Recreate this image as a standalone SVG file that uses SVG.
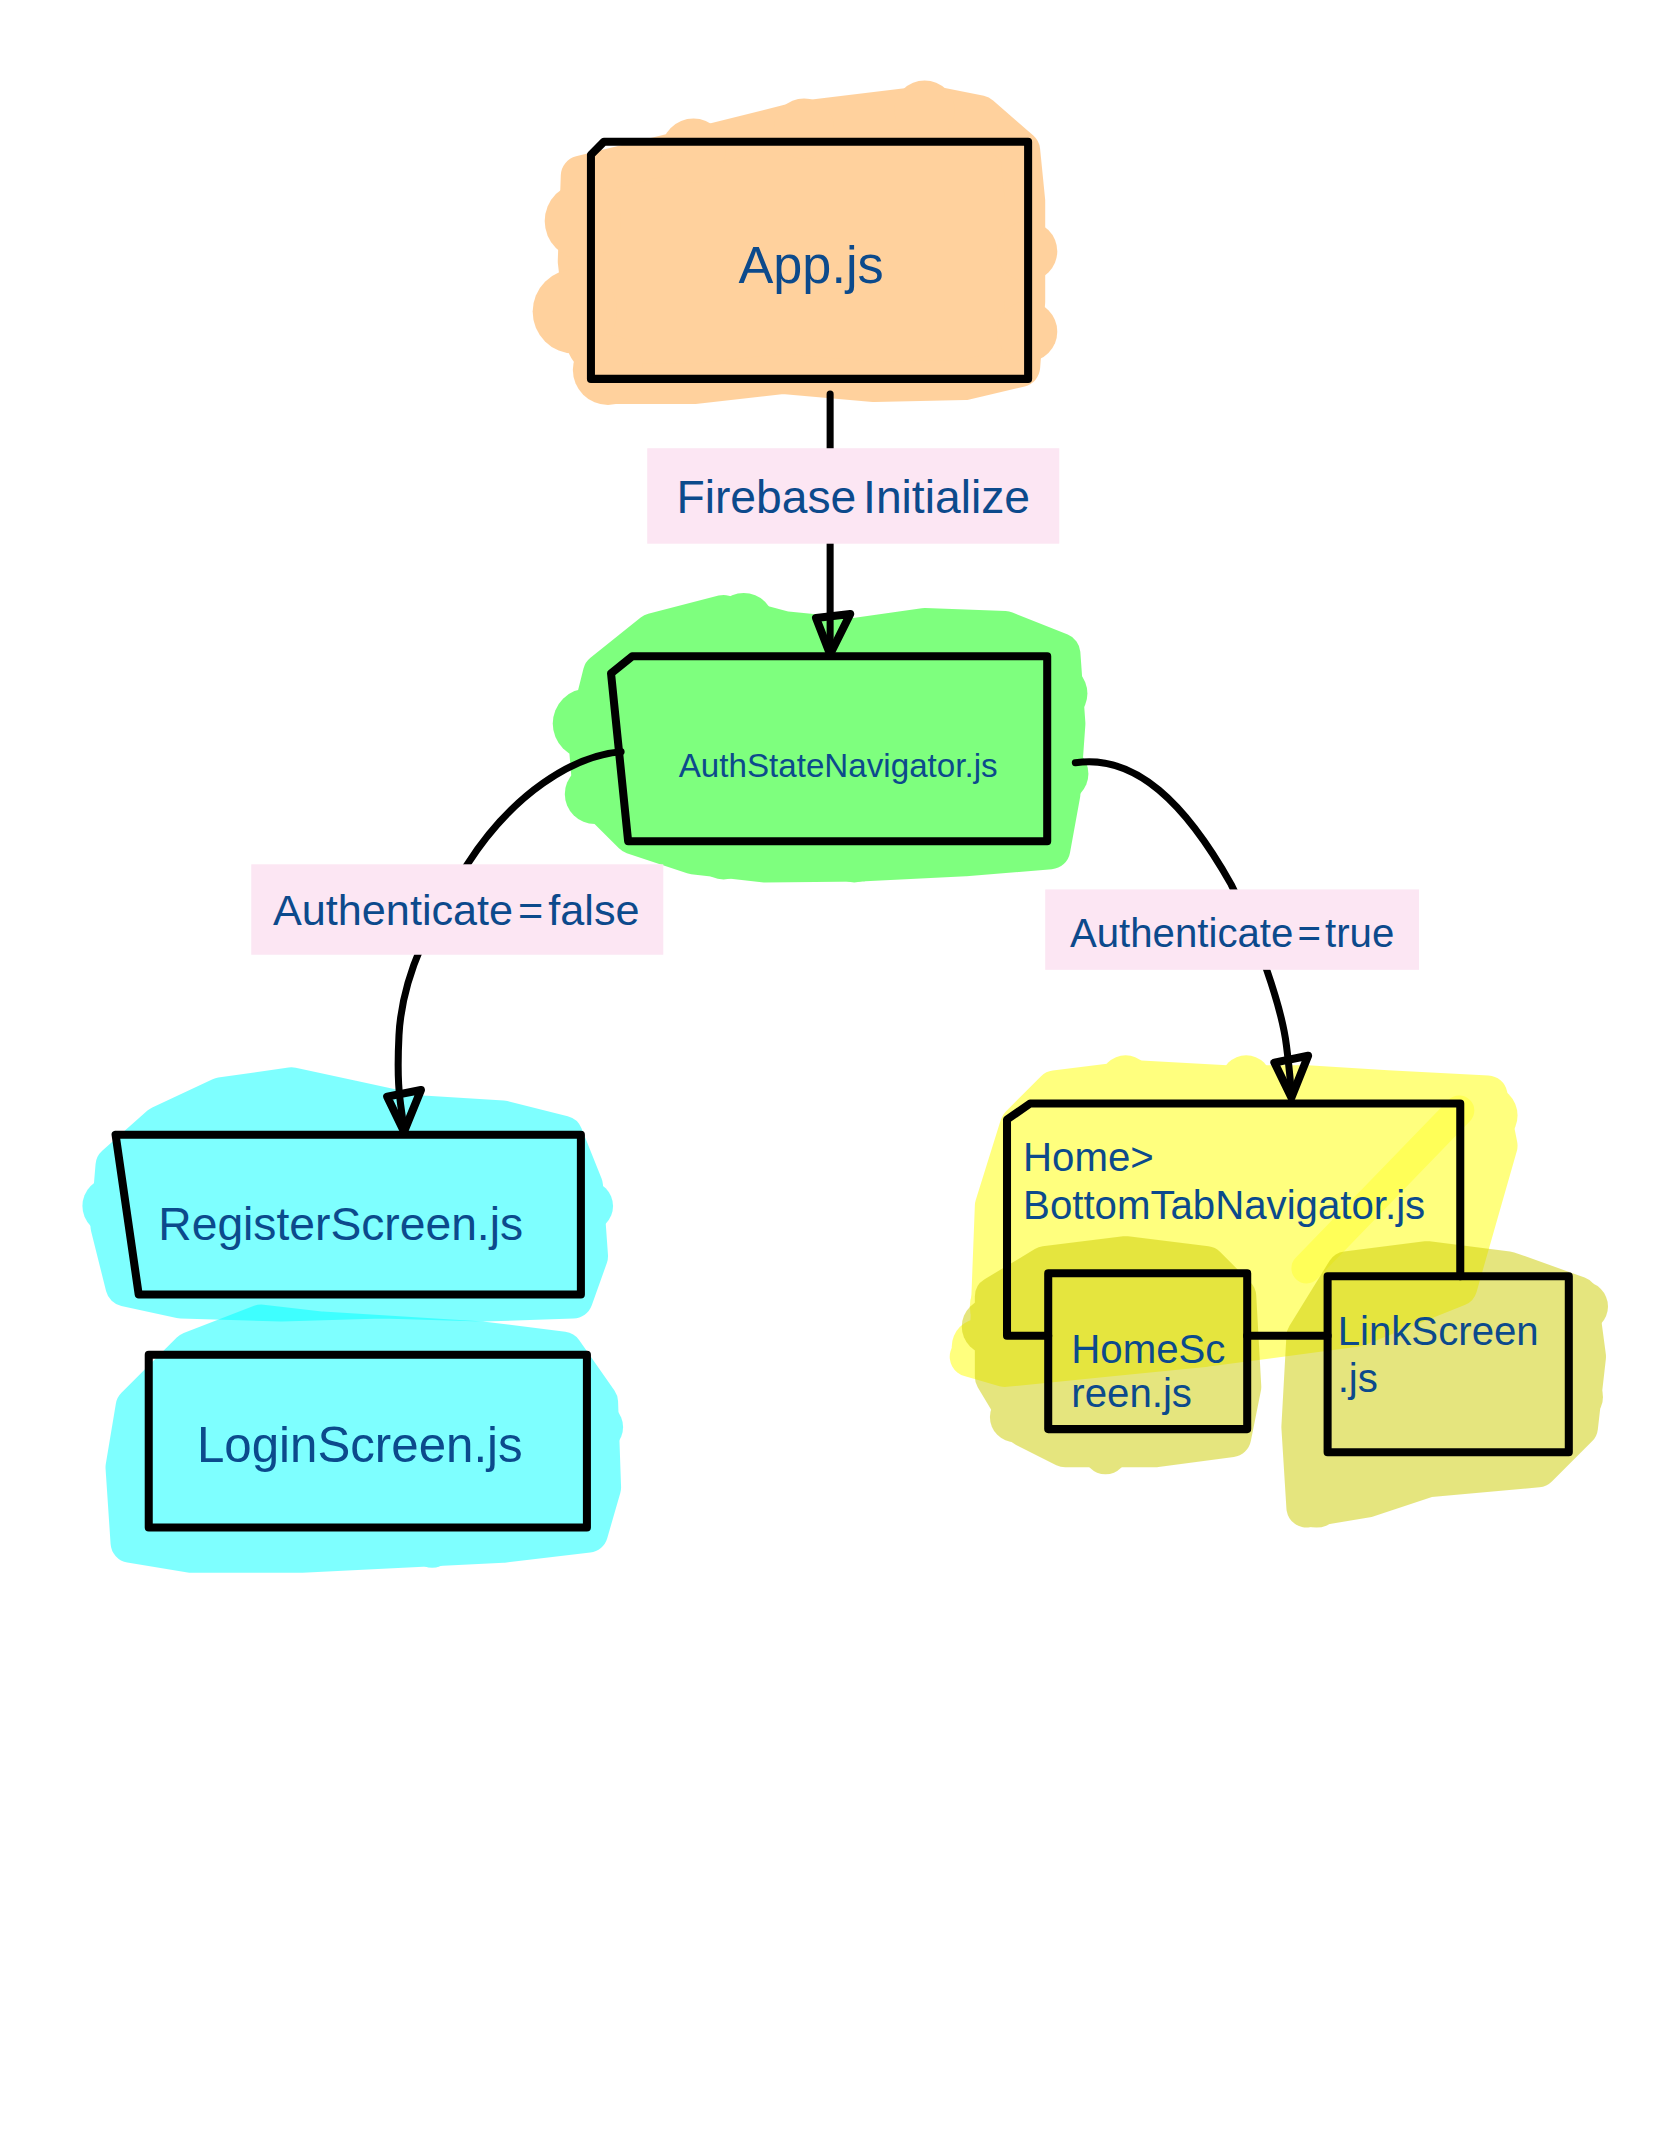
<svg xmlns="http://www.w3.org/2000/svg" width="1668" height="2154" viewBox="0 0 1668 2154">
<style>
.t{font-family:"Liberation Sans",Arial,"Noto Sans",sans-serif;fill:#0C4A8C;}
.box{fill:none;stroke:#000;stroke-width:8;stroke-linejoin:round;stroke-linecap:round;}
.edge{fill:none;stroke:#000;stroke-width:7;stroke-linecap:round;stroke-linejoin:round;}
.lbl{fill:#FCE6F3;}
.cl{stroke-width:40;stroke-linejoin:round;}
</style>
<defs>
<marker id="ah" markerUnits="userSpaceOnUse" markerWidth="80" markerHeight="80" viewBox="-50 -40 80 80" refX="0" refY="0" orient="auto" overflow="visible">
<path d="M0,0 L-36,14 L-40,-20 Z" fill="none" stroke="#000" stroke-width="8" stroke-linejoin="round"/>
</marker>
</defs>
<rect width="1668" height="2154" fill="#fff"/>
<g transform="scale(1.005)">

<g id="node-app">
<g opacity="0.5" fill="#FFA53D" stroke="#FFA53D">
<polygon class="cl" points="578,175 700,145 800,120 925,105 975,115 1015,150 1020,200 1020,300 1015,365 960,378 870,380 780,372 690,382 610,382 585,345 575,260"/>
<circle cx="580" cy="220" r="38" stroke="none"/><circle cx="572" cy="310" r="42" stroke="none"/><circle cx="605" cy="368" r="35" stroke="none"/>
<circle cx="1022" cy="250" r="30" stroke="none"/><circle cx="1022" cy="330" r="30" stroke="none"/>
<circle cx="690" cy="150" r="32" stroke="none"/><circle cx="800" cy="128" r="30" stroke="none"/><circle cx="920" cy="110" r="30" stroke="none"/>
</g>
<path class="box" d="M588 154 L601 141 L1023 141 L1023 377 L588 377 Z"/>
<text class="t" x="807" y="282" font-size="52" text-anchor="middle">App.js</text>
</g>

<g id="node-auth">
<g opacity="0.5" fill="#00FF00" stroke="#00FF00">
<polygon class="cl" points="585,730 600,670 650,630 720,612 780,628 850,635 920,625 1000,628 1055,650 1060,720 1055,790 1045,845 960,852 860,857 760,858 690,850 630,830 590,790"/>
<circle cx="585" cy="720" r="35" stroke="none"/><circle cx="592" cy="790" r="30" stroke="none"/><circle cx="740" cy="620" r="30" stroke="none"/>
<circle cx="1052" cy="690" r="30" stroke="none"/><circle cx="1055" cy="770" r="28" stroke="none"/><circle cx="720" cy="845" r="30" stroke="none"/><circle cx="850" cy="850" r="28" stroke="none"/>
</g>
<path class="box" d="M608 670 L629 653 L1042 653 L1042 837 L625 837 Z"/>
<text class="t" x="834" y="773" font-size="33" text-anchor="middle">AuthStateNavigator.js</text>
</g>

<g id="node-register">
<g opacity="0.5" fill="#00FFFF" stroke="#00FFFF">
<polygon class="cl" points="115,1160 160,1120 220,1092 290,1082 350,1095 420,1110 500,1115 560,1130 580,1180 585,1250 570,1292 480,1295 380,1292 280,1295 180,1292 125,1280 110,1220"/>
<circle cx="220" cy="1100" r="25" stroke="none"/><circle cx="110" cy="1200" r="28" stroke="none"/><circle cx="585" cy="1200" r="25" stroke="none"/>
</g>
<path class="box" d="M115 1129 L578 1129 L578 1288 L138 1288 Z"/>
<text class="t" x="339" y="1234" font-size="46" text-anchor="middle">RegisterScreen.js</text>
</g>

<g id="node-login">
<g opacity="0.5" fill="#00FFFF" stroke="#00FFFF">
<polygon class="cl" points="135,1400 190,1345 260,1318 320,1325 400,1330 480,1335 560,1345 595,1395 598,1480 585,1525 500,1535 400,1540 300,1545 190,1545 130,1535 125,1460"/>
<circle cx="140" cy="1520" r="25" stroke="none"/><circle cx="595" cy="1420" r="25" stroke="none"/><circle cx="270" cy="1540" r="22" stroke="none"/><circle cx="430" cy="1540" r="20" stroke="none"/>
</g>
<rect class="box" x="148" y="1348" width="436" height="172"/>
<text class="t" x="358" y="1455" font-size="49" text-anchor="middle">LoginScreen.js</text>
</g>

<g id="node-bottomtab">
<g opacity="0.5" fill="#FFFF00" stroke="#FFFF00">
<polygon class="cl" points="985,1330 990,1200 1015,1120 1050,1085 1130,1075 1220,1080 1300,1080 1380,1085 1480,1090 1490,1140 1470,1210 1450,1280 1350,1320 1200,1340 1100,1350 1000,1360 965,1350"/>
<circle cx="1480" cy="1110" r="30" stroke="none"/><circle cx="1000" cy="1300" r="35" stroke="none"/><circle cx="975" cy="1340" r="28" stroke="none"/><circle cx="1120" cy="1075" r="25" stroke="none"/><circle cx="1240" cy="1075" r="25" stroke="none"/>
</g>
<path d="M1300 1262 L1452 1105" stroke="#FFFF00" stroke-opacity="0.3" stroke-width="30" stroke-linecap="round" fill="none"/>
</g>

<g id="node-homescreen">
<g opacity="0.5" fill="#CDCD00" stroke="#CDCD00">
<polygon class="cl" points="990,1290 1040,1260 1120,1250 1200,1260 1230,1290 1235,1380 1225,1430 1150,1440 1060,1440 1020,1420 990,1370"/>
<circle cx="985" cy="1320" r="28" stroke="none"/><circle cx="1100" cy="1445" r="22" stroke="none"/><circle cx="1010" cy="1410" r="25" stroke="none"/>
</g>
</g>

<g id="node-linkscreen">
<g opacity="0.5" fill="#CDCD00" stroke="#CDCD00">
<polygon class="cl" points="1300,1330 1340,1265 1420,1255 1500,1265 1570,1290 1578,1350 1570,1420 1530,1460 1420,1470 1360,1490 1300,1500 1295,1420"/>
<circle cx="1310" cy="1495" r="25" stroke="none"/><circle cx="1575" cy="1300" r="25" stroke="none"/><circle cx="1570" cy="1390" r="25" stroke="none"/>
</g>
</g>

<g id="node-bottomtab-frame">
<path class="box" d="M1043 1329 L1002 1329 L1002 1114 L1025 1098 L1453 1098 L1453 1270 M1241 1329 L1321 1329"/>
<text class="t" x="1018" y="1165" font-size="40">Home&gt;</text>
<text class="t" x="1018" y="1213" font-size="40">BottomTabNavigator.js</text>
</g>

<g id="node-homescreen-box">
<rect class="box" x="1043" y="1267" width="198" height="155"/>
<text class="t" x="1066" y="1356" font-size="40">HomeSc</text>
<text class="t" x="1066" y="1400" font-size="40">reen.js</text>
</g>

<g id="node-linkscreen-box">
<rect class="box" x="1321" y="1270" width="240" height="175"/>
<text class="t" x="1331" y="1338" font-size="40">LinkScreen</text>
<text class="t" x="1331" y="1385" font-size="40">.js</text>
</g>

<g id="connectors">
<path class="edge" d="M826 392 L826 651" marker-end="url(#ah)"/>
<path class="edge" d="M618 748 C570 752 510 790 465 860 C430 912 400 970 397 1030 S400 1100 402 1126" marker-end="url(#ah)"/>
<path class="edge" d="M1070 759 C1130 750 1180 800 1225 880 C1250 930 1275 1000 1280 1040 S1284 1080 1285 1092" marker-end="url(#ah)"/>
<rect class="lbl" x="644" y="446" width="410" height="95"/>
<text class="t" x="849" y="510" font-size="46" text-anchor="middle" word-spacing="-6">Firebase Initialize</text>
<rect class="lbl" x="250" y="860" width="410" height="90"/>
<text class="t" x="454" y="920" font-size="43" text-anchor="middle" word-spacing="-7">Authenticate = false</text>
<rect class="lbl" x="1040" y="885" width="372" height="80"/>
<text class="t" x="1226" y="942" font-size="40" text-anchor="middle" word-spacing="-7">Authenticate = true</text>
</g>
</g>
</svg>
